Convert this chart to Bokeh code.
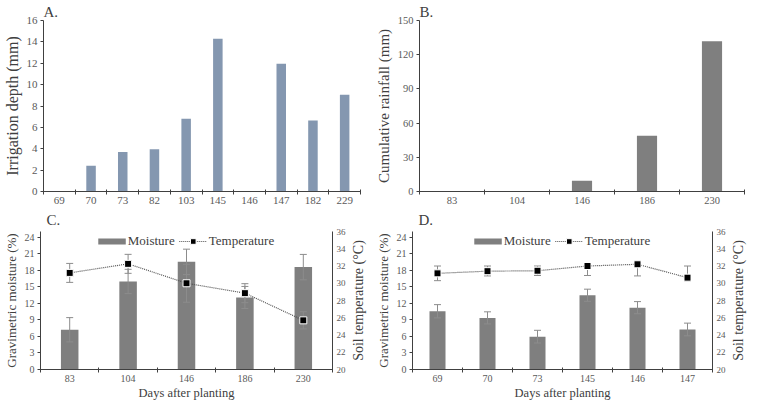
from bokeh.plotting import figure
from bokeh.models import (Range1d, LinearAxis, FixedTicker, Legend, LegendItem,
                          ColumnDataSource, Title)
from bokeh.layouts import column, row
from bokeh.embed import file_html
from bokeh.resources import INLINE

# ---------------- data ----------------
# Panel A: irrigation depth (mm)
a_days = ["69", "70", "73", "82", "103", "145", "146", "147", "182", "229"]
a_irrigation = [0, 2.4, 3.7, 3.95, 6.8, 14.3, 0, 11.95, 6.65, 9.05]

# Panel B: cumulative rainfall (mm)
b_days = ["83", "104", "146", "186", "230"]
b_rain = [0, 0, 9.4, 49, 131.8]

# Panel C: moisture (%) and soil temperature (°C)
c_days = ["83", "104", "146", "186", "230"]
c_moist = [7.2, 15.95, 19.5, 13.05, 18.55]
c_moist_err = [2.2, 2.2, 2.3, 2.0, 2.3]
c_temp = [31.2, 32.25, 30.0, 28.85, 25.7]
c_temp_err_up = [1.1, 1.1, 2.2, 1.1, 1.0]
c_temp_err_dn = [1.1, 1.1, 2.2, 1.1, 1.0]

# Panel D
d_days = ["69", "70", "73", "145", "146", "147"]
d_moist = [10.55, 9.35, 5.95, 13.45, 11.2, 7.25]
d_moist_err = [1.2, 1.1, 1.15, 1.1, 1.1, 1.15]
d_temp = [31.15, 31.4, 31.45, 32.0, 32.2, 30.65]
d_temp_err_up = [0.85, 0.6, 0.55, 0.0, 0.0, 1.35]
d_temp_err_dn = [0.85, 0.55, 0.55, 1.1, 1.35, 0.0]

# ---------------- styles ----------------
FONT = "Liberation Serif"
TXT = "#404040"
TICK = "#595959"
AXIS = "#404040"
BLUE = "#8497B0"
GRAY = "#7F7F7F"
ERR = "#8C8C8C"
NAN = float("nan")


def base_fig(w, h, days, title, ymax, ystep, ylabel, xlabel=None, title_offset=0,
             ylab_size="13px", tick_size="10px"):
    n = len(days)
    p = figure(width=w, height=h, output_backend="svg", toolbar_location=None,
               x_range=Range1d(0.5, n + 0.5), y_range=Range1d(0, ymax),
               min_border_left=4, min_border_right=4, min_border_top=0, min_border_bottom=0)
    p.grid.visible = False
    p.outline_line_color = None
    p.title.text = title
    p.title.text_font = FONT
    p.title.text_font_size = "15px"
    p.title.text_font_style = "normal"
    p.title.text_color = TXT
    p.title.align = "left"
    p.title.offset = title_offset
    p.title.standoff = 2

    xa = p.xaxis[0]
    xa.ticker = FixedTicker(ticks=list(range(1, n + 1)),
                            minor_ticks=[i + 0.5 for i in range(0, n + 1)])
    xa.major_label_overrides = {i + 1: d for i, d in enumerate(days)}
    xa.major_tick_out = 0
    xa.major_tick_in = 0
    xa.minor_tick_out = 3
    xa.minor_tick_in = 2
    xa.minor_tick_line_color = AXIS
    xa.axis_line_color = AXIS
    xa.major_label_text_font = FONT
    xa.major_label_text_font_size = tick_size
    xa.major_label_text_color = TICK
    xa.major_label_standoff = 2
    if xlabel:
        xa.axis_label = xlabel
        xa.axis_label_text_font = FONT
        xa.axis_label_text_font_size = "12.5px"
        xa.axis_label_text_font_style = "normal"
        xa.axis_label_text_color = TXT
        xa.axis_label_standoff = 1

    ya = p.yaxis[0]
    ya.ticker = FixedTicker(ticks=list(range(0, int(ymax) + 1, ystep)))
    ya.minor_tick_line_color = None
    ya.major_tick_out = 3
    ya.major_tick_in = 0
    ya.major_tick_line_color = AXIS
    ya.axis_line_color = AXIS
    ya.major_label_text_font = FONT
    ya.major_label_text_font_size = tick_size
    ya.major_label_text_color = TICK
    ya.major_label_standoff = 3
    ya.axis_label = ylabel
    ya.axis_label_text_font = FONT
    ya.axis_label_text_font_size = ylab_size
    ya.axis_label_text_font_style = "normal"
    ya.axis_label_text_color = TXT
    ya.axis_label_standoff = 3
    return p


# ---------------- Panel A ----------------
pa = base_fig(372, 206, a_days, "A.", 16, 2, "Irrigation depth (mm)",
              ylab_size="16px", tick_size="11px")
pa.min_border_right = 12
pa.vbar(x=list(range(1, len(a_days) + 1)), top=a_irrigation, width=0.3,
        fill_color=BLUE, line_color=None)

# ---------------- Panel B ----------------
pb = base_fig(375, 206, b_days, "B.", 150, 30, "Cumulative rainfall (mm)",
              ylab_size="15px", tick_size="10.5px")
pb.min_border_right = 3
pb.min_border_left = 44
pb.vbar(x=list(range(1, len(b_days) + 1)), top=b_rain, width=0.31,
        fill_color=GRAY, line_color=None)


# ---------------- Panels C & D ----------------
def combo(w, h, days, title, moist, merr, temp, t_up, t_dn, bar_w, lb, rb):
    n = len(days)
    p = base_fig(w, h, days, title, 25, 3, "Gravimetric moisture (%)",
                 xlabel="Days after planting", title_offset=6)
    p.min_border_right = rb
    p.min_border_left = lb
    p.title.standoff = 7
    p.yaxis[0].ticker = FixedTicker(ticks=list(range(0, 25, 3)))
    p.extra_y_ranges = {"temp": Range1d(20, 36)}
    ra = LinearAxis(y_range_name="temp", ticker=FixedTicker(ticks=list(range(20, 37, 2))))
    ra.major_tick_out = 0
    ra.major_tick_in = 0
    ra.minor_tick_line_color = None
    ra.axis_line_color = AXIS
    ra.major_label_text_font = FONT
    ra.major_label_text_font_size = "9px"
    ra.major_label_text_color = TICK
    ra.major_label_standoff = 4
    p.add_layout(ra, "right")

    xs = list(range(1, n + 1))
    src = ColumnDataSource(dict(
        x=xs, moist=moist,
        m_up=[m + e for m, e in zip(moist, merr)],
        m_dn=[m - e for m, e in zip(moist, merr)],
        temp=temp,
        t_up=[t + e for t, e in zip(temp, t_up)],
        t_dn=[t - e for t, e in zip(temp, t_dn)],
    ))
    p.vbar(x="x", top="moist", width=bar_w, source=src, fill_color=GRAY, line_color=None)
    p.segment(x0="x", y0="m_dn", x1="x", y1="m_up", source=src, line_color=ERR, line_width=1)
    p.scatter(x="x", y="m_up", source=src, marker="dash", size=7, line_color=ERR, line_width=1)
    p.scatter(x="x", y="m_dn", source=src, marker="dash", size=7, line_color=ERR, line_width=1)

    tl = p.line(x="x", y="temp", source=src, y_range_name="temp",
                line_color="#505050", line_width=1.2, line_dash="1 1")
    p.segment(x0="x", y0="t_dn", x1="x", y1="t_up", source=src, y_range_name="temp",
              line_color=ERR, line_width=1)
    p.scatter(x="x", y="t_up", source=src, y_range_name="temp", marker="dash", size=7,
              line_color=ERR, line_width=1)
    p.scatter(x="x", y="t_dn", source=src, y_range_name="temp", marker="dash", size=7,
              line_color=ERR, line_width=1)
    tm = p.scatter(x="x", y="temp", source=src, y_range_name="temp", marker="square",
                   size=7, fill_color="black", line_color="white", line_width=1)

    # legend swatch for the moisture bars (flat gray bar)
    sw = p.line(x=[NAN, NAN], y=[NAN, NAN], line_color=GRAY, line_width=6)
    leg = Legend(items=[LegendItem(label="Moisture", renderers=[sw]),
                        LegendItem(label="Temperature", renderers=[tl, tm])],
                 orientation="horizontal", location="top_center")
    leg.label_text_font = FONT
    leg.label_text_font_size = "13px"
    leg.label_text_color = TXT
    leg.glyph_width = 28
    leg.glyph_height = 14
    leg.label_height = 14
    leg.label_standoff = 2
    leg.spacing = 4
    leg.padding = 0
    leg.margin = 2
    leg.border_line_alpha = 0
    leg.background_fill_alpha = 0
    p.add_layout(leg)
    return p


def side_title(w, h, text, top_pad, bottom_pad):
    # narrow strip carrying the right-hand axis title, reading bottom-to-top
    f = figure(width=w, height=h, output_backend="svg", toolbar_location=None,
               x_axis_location=None, y_axis_location=None, title_location=None,
               x_range=Range1d(0, 1), y_range=Range1d(0, 1),
               min_border_left=0, min_border_right=0,
               min_border_top=top_pad, min_border_bottom=bottom_pad)
    f.grid.visible = False
    f.outline_line_color = None
    f.add_layout(Title(text=text, align="center", text_font=FONT, text_font_size="14px",
                       text_font_style="normal", text_color=TXT, standoff=0, offset=0),
                 "left")
    return f


pc = combo(348, 196, c_days, "C.", c_moist, c_moist_err, c_temp, c_temp_err_up,
           c_temp_err_dn, 0.3, 4, 14)
pc_lab = side_title(24, 196, "Soil temperature (°C)", 24, 24)
pd_ = combo(356, 196, d_days, "D.", d_moist, d_moist_err, d_temp, d_temp_err_up,
            d_temp_err_dn, 0.32, 40, 13)
pd_lab = side_title(19, 196, "Soil temperature (°C)", 24, 24)

layout = column(row(pa, pb), row(pc, pc_lab, pd_, pd_lab))
open("out.html", "w").write(file_html(layout, INLINE))
